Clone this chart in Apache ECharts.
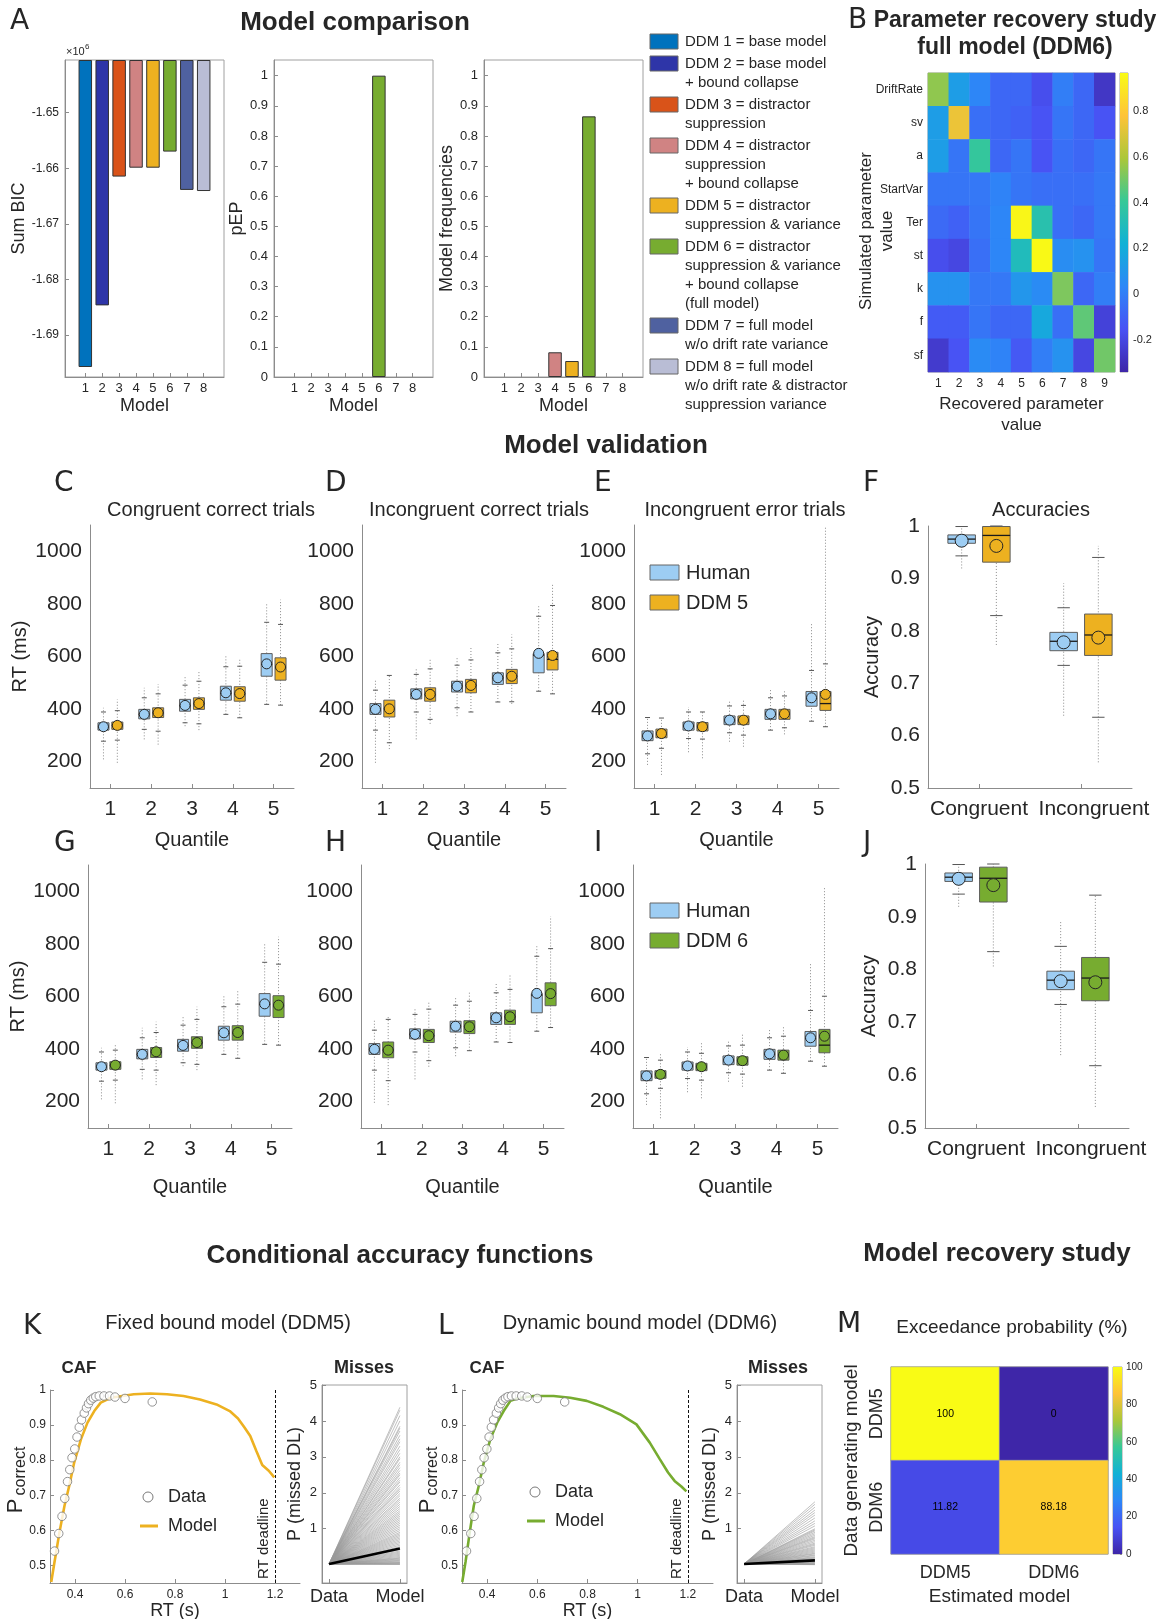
<!DOCTYPE html>
<html>
<head>
<meta charset="utf-8">
<script src="https://cdn.jsdelivr.net/npm/echarts@6/dist/echarts.min.js"></script>
<style>
  html, body { margin: 0; padding: 0; background: #fff; }
  #main { width: 1161px; height: 1619px; }
</style>
</head>
<body>
<div id="main"></div>
<script>
// ---------- panel A : model comparison ----------
const modelIdx = [1, 2, 3, 4, 5, 6, 7, 8];
const modelColors = ['#0072bd', '#2e35a8', '#d95319', '#d08383', '#edb120', '#77ac30', '#4f61a0', '#b9bdd5'];
const modelLegend = [
    ['DDM 1 = base model'],
    ['DDM 2 = base model', '+ bound collapse'],
    ['DDM 3 = distractor', 'suppression'],
    ['DDM 4 = distractor', 'suppression', '+ bound collapse'],
    ['DDM 5 = distractor', 'suppression & variance'],
    ['DDM 6 = distractor', 'suppression & variance', '+ bound collapse', '(full model)'],
    ['DDM 7 = full model', 'w/o drift rate variance'],
    ['DDM 8 = full model', 'w/o drift rate & distractor', 'suppression variance']
];
const sumBIC = [-1.6958, -1.6847, -1.6615, -1.6599, -1.6599, -1.6570, -1.6639, -1.6641]; // x10^6
const pEP = [0, 0, 0, 0, 0, 1, 0, 0];
const modelFreq = [0, 0, 0, 0.082, 0.053, 0.865, 0, 0];
const bicTicks = [-1.69, -1.68, -1.67, -1.66, -1.65];
const probTicks = [0, 0.1, 0.2, 0.3, 0.4, 0.5, 0.6, 0.7, 0.8, 0.9, 1];

// ---------- panel B : parameter recovery ----------
const paramNames = ['DriftRate', 'sv', 'a', 'StartVar', 'Ter', 'st', 'k', 'f', 'sf'];
const recoveredIdx = ['1', '2', '3', '4', '5', '6', '7', '8', '9'];
const paramCorr = [
    [0.55, 0.13, 0.03, -0.08, -0.08, -0.17, 0.0, -0.08, -0.27],
    [0.13, 0.74, -0.05, -0.08, -0.1, -0.15, -0.03, -0.08, -0.15],
    [0.13, -0.03, 0.39, -0.08, -0.03, -0.15, -0.05, -0.08, -0.03],
    [-0.03, -0.03, -0.02, 0.02, -0.03, -0.05, -0.05, -0.05, -0.02],
    [-0.07, -0.1, -0.03, 0.03, 0.95, 0.34, -0.05, -0.08, -0.02],
    [-0.17, -0.2, -0.05, 0.03, 0.3, 0.96, 0.06, 0.08, -0.03],
    [0.08, 0.08, -0.02, -0.02, 0.1, 0.05, 0.52, -0.08, 0.0],
    [-0.12, -0.12, -0.03, -0.08, -0.08, 0.18, -0.05, 0.47, -0.22],
    [-0.25, -0.15, 0.05, 0.02, -0.13, 0.0, 0.08, -0.2, 0.5]
];
const corrRange = [-0.34, 0.966];
const corrTicks = [-0.2, 0, 0.2, 0.4, 0.6, 0.8];

// ---------- panels C-J : model validation ----------
// each row: [outlier low, whisker low, q1, median, q3, whisker high, outlier high, mean]
const quantiles = ['1', '2', '3', '4', '5'];
const rtTicks = [200, 400, 600, 800, 1000];
const humanCongCorrect = [
    [209, 278, 320, 333, 348, 389, 405, 333],
    [285, 323, 363, 380, 399, 443, 481, 380],
    [335, 348, 392, 413, 437, 491, 525, 414],
    [380, 380, 434, 460, 487, 561, 601, 462],
    [418, 418, 525, 570, 611, 730, 804, 572]
];
const ddm5CongCorrect = [
    [196, 282, 323, 338, 351, 394, 437, 338],
    [265, 316, 368, 386, 405, 458, 495, 386],
    [320, 344, 399, 421, 443, 506, 541, 421],
    [367, 367, 430, 458, 485, 563, 595, 459],
    [415, 415, 510, 557, 595, 722, 816, 560]
];
const ddm6CongCorrect = [
    [194, 282, 323, 338, 352, 396, 422, 339],
    [263, 320, 368, 389, 406, 463, 504, 390],
    [320, 342, 403, 424, 447, 513, 561, 425],
    [365, 365, 434, 462, 489, 571, 622, 463],
    [415, 415, 520, 565, 603, 723, 827, 567]
];
const humanIncCorrect = [
    [196, 320, 380, 399, 421, 472, 513, 399],
    [285, 389, 439, 456, 477, 532, 557, 456],
    [373, 405, 465, 487, 506, 567, 601, 487],
    [427, 427, 494, 519, 538, 614, 652, 519],
    [468, 468, 538, 605, 611, 753, 791, 612]
];
const ddm5IncCorrect = [
    [248, 272, 370, 401, 434, 528, 528, 401],
    [344, 361, 430, 455, 481, 553, 592, 456],
    [389, 389, 462, 490, 513, 587, 639, 490],
    [420, 428, 497, 525, 551, 629, 684, 525],
    [458, 458, 549, 589, 616, 794, 880, 604]
];
const ddm6IncCorrect = [
    [187, 280, 367, 396, 427, 513, 529, 396],
    [333, 356, 425, 451, 475, 552, 580, 451],
    [394, 394, 459, 485, 508, 582, 618, 485],
    [425, 425, 494, 523, 548, 627, 681, 523],
    [482, 482, 565, 611, 652, 782, 905, 611]
];
const humanIncError = [
    [188, 230, 280, 297, 317, 368, 368, 298],
    [236, 288, 320, 336, 351, 389, 408, 336],
    [276, 310, 341, 357, 374, 412, 433, 358],
    [320, 320, 361, 381, 399, 443, 475, 382],
    [354, 354, 411, 440, 467, 547, 723, 443]
];
const ddm5IncError = [
    [150, 251, 291, 307, 324, 366, 366, 307],
    [213, 286, 317, 333, 349, 389, 389, 333],
    [257, 301, 341, 357, 374, 414, 433, 358],
    [304, 329, 361, 381, 399, 450, 471, 382],
    [333, 333, 395, 421, 467, 572, 1094, 456]
];
const ddm6IncError = [
    [137, 251, 289, 304, 318, 358, 384, 304],
    [213, 282, 318, 333, 346, 384, 428, 333],
    [257, 305, 339, 356, 371, 415, 462, 356],
    [308, 308, 358, 377, 396, 449, 485, 377],
    [335, 335, 386, 415, 475, 601, 1016, 449]
];
const conditions = ['Congruent', 'Incongruent'];
const accTicks = [0.5, 0.6, 0.7, 0.8, 0.9, 1];
const humanAcc = [
    [0.919, 0.943, 0.967, 0.975, 0.983, 0.999, 0.999, 0.972],
    [0.638, 0.734, 0.762, 0.780, 0.797, 0.844, 0.891, 0.778]
];
const ddm5Acc = [
    [0.773, 0.829, 0.931, 0.982, 0.999, 1.0, 1.0, 0.962],
    [0.549, 0.635, 0.753, 0.792, 0.832, 0.940, 0.962, 0.787]
];
const ddm6Acc = [
    [0.806, 0.834, 0.928, 0.973, 0.994, 1.0, 1.0, 0.960],
    [0.540, 0.618, 0.741, 0.784, 0.823, 0.941, 0.941, 0.776]
];

// ---------- panels K, L : conditional accuracy functions ----------
const cafRT = [0.318, 0.335, 0.348, 0.359, 0.370, 0.379, 0.388, 0.399, 0.408, 0.417, 0.426, 0.437,
    0.446, 0.454, 0.463, 0.473, 0.483, 0.497, 0.516, 0.538, 0.560, 0.600, 0.709];
const cafAcc = [0.541, 0.591, 0.640, 0.691, 0.739, 0.773, 0.807, 0.832, 0.866, 0.894, 0.915, 0.934,
    0.949, 0.961, 0.971, 0.977, 0.981, 0.983, 0.983, 0.983, 0.980, 0.976, 0.966];
const caf5RT = [0.305, 0.318, 0.338, 0.358, 0.377, 0.397, 0.424, 0.450, 0.477, 0.503, 0.543, 0.635, 0.701,
    0.768, 0.834, 0.900, 0.966, 1.019, 1.052, 1.078, 1.101, 1.125, 1.149, 1.175, 1.197];
const caf5P = [0.453, 0.51, 0.595, 0.670, 0.727, 0.794, 0.860, 0.907, 0.940, 0.964, 0.978, 0.988, 0.990,
    0.988, 0.983, 0.973, 0.959, 0.940, 0.919, 0.893, 0.869, 0.827, 0.786, 0.770, 0.751];
const caf6RT = [0.301, 0.314, 0.331, 0.347, 0.367, 0.387, 0.413, 0.440, 0.466, 0.493, 0.519, 0.585, 0.665,
    0.731, 0.797, 0.863, 0.929, 0.995, 1.048, 1.088, 1.121, 1.147, 1.174, 1.194];
const caf6P = [0.453, 0.51, 0.595, 0.670, 0.727, 0.794, 0.860, 0.907, 0.940, 0.969, 0.976, 0.983, 0.983,
    0.978, 0.969, 0.952, 0.931, 0.902, 0.850, 0.803, 0.765, 0.741, 0.725, 0.711];
const rtDeadline = 1.2;
const cafTicksX = [0.4, 0.6, 0.8, 1, 1.2];
const cafTicksY = [0.5, 0.6, 0.7, 0.8, 0.9, 1];

// missed deadlines (%), one value per simulated subject
const missesDDM5 = [4.38, 4.3, 4.15, 4.0, 3.85, 3.8, 3.72, 3.6, 3.5, 3.42, 3.3, 3.2, 3.1, 3.0, 2.95, 2.85,
    2.78, 2.7, 2.62, 2.55, 2.5, 2.42, 2.35, 2.3, 2.22, 2.15, 2.1, 2.05, 1.98, 1.92, 1.85, 1.8, 1.74, 1.68,
    1.62, 1.56, 1.5, 1.45, 1.4, 1.35, 1.3, 1.25, 1.2, 1.15, 1.1, 1.05, 1.0, 0.95, 0.9, 0.86, 0.82, 0.78,
    0.74, 0.7, 0.66, 0.62, 0.58, 0.54, 0.5, 0.46, 0.42, 0.38, 0.35, 0.32, 0.29, 0.26, 0.23, 0.2, 0.18,
    0.16, 0.14, 0.12, 0.1, 0.08, 0.06, 0.05, 0.04, 0.03, 0.02, 0.01];
const missesDDM6 = [1.75, 1.68, 1.6, 1.52, 1.45, 1.38, 1.3, 1.22, 1.15, 1.08, 1.0, 0.97, 0.94, 0.9, 0.86,
    0.82, 0.78, 0.75, 0.72, 0.68, 0.64, 0.6, 0.57, 0.54, 0.5, 0.47, 0.44, 0.41, 0.38, 0.35, 0.32, 0.3,
    0.27, 0.25, 0.22, 0.2, 0.18, 0.16, 0.14, 0.12, 0.1, 0.09, 0.08, 0.06, 0.05, 0.04, 0.03, 0.02, 0.01, 0.0];
const humanMiss = 0.02;
const missMean5 = 0.45;
const missMean6 = 0.12;
const missTicks = [1, 2, 3, 4, 5];

// ---------- panel M : model recovery ----------
const recModels = ['DDM5', 'DDM6'];
const exceedance = [[100, 0], [11.82, 88.18]]; // rows: generating model, cols: estimated model
const exceedTicks = [0, 20, 40, 60, 80, 100];

// ---------- styles ----------
const FONT = 'Liberation Sans';
const txt = '#262626';
const axisGray = '#8c8c8c';
const humanColor = '#9dcdf3';
const ddm5Color = '#edb120';
const ddm6Color = '#77ac30';
const parula = ['#3e26a8', '#4852f4', '#2d87f7', '#11b1d6', '#37c897', '#abc739', '#fec338', '#f9fb15'];

function merge(a, b) {
    for (const k in (b || {})) {
        if (b[k] && typeof b[k] === 'object' && !Array.isArray(b[k]) && a[k] && typeof a[k] === 'object') merge(a[k], b[k]);
        else a[k] = b[k];
    }
    return a;
}

function valueAxis(gi, min, max, ticks, fs, more) {
    return merge({
        type: 'value', gridIndex: gi, min: min, max: max,
        axisLine: {show: true, onZero: false, lineStyle: {color: axisGray}},
        axisTick: {show: true, inside: true, length: 4, customValues: ticks, lineStyle: {color: axisGray}},
        axisLabel: {customValues: ticks, fontSize: fs, color: txt, fontFamily: FONT, margin: 6,
            formatter: v => String(v)},
        splitLine: {show: false},
        nameLocation: 'middle',
        nameTextStyle: {fontSize: 18, color: txt, fontFamily: FONT}
    }, more);
}

function catAxis(gi, data, fs, more) {
    return merge({
        type: 'category', gridIndex: gi, data: data, boundaryGap: true,
        axisLine: {show: true, onZero: false, lineStyle: {color: axisGray}},
        axisTick: {show: true, inside: true, alignWithLabel: true, length: 4, lineStyle: {color: axisGray}},
        axisLabel: {fontSize: fs, color: txt, fontFamily: FONT, margin: 6, interval: 0},
        splitLine: {show: false},
        nameLocation: 'middle',
        nameTextStyle: {fontSize: 20, color: txt, fontFamily: FONT}
    }, more);
}

function hiddenAxis(gi) {
    return {type: 'value', gridIndex: gi, min: 0, max: 1, show: false};
}

function boxGrid(left, top, width, height) {
    return {left, top, width, height, show: true, borderColor: '#a0a0a0', borderWidth: 1,
        backgroundColor: 'transparent', containLabel: false, outerBoundsMode: 'none'};
}
function openGrid(left, top, width, height) {
    return {left, top, width, height, show: false, containLabel: false, outerBoundsMode: 'none'};
}

function txtEl(x, y, text, size, opt) {
    opt = opt || {};
    return {
        type: 'text', x: x, y: y, rotation: opt.rot || 0, silent: true,
        style: {text: text, fontSize: size, fontFamily: opt.family || FONT, fontWeight: opt.bold ? 'bold' : 'normal',
            fill: txt, align: opt.align || 'center', verticalAlign: 'middle', lineHeight: opt.lh || size * 1.2}
    };
}

// box with dotted whiskers, caps, median and a mean circle
function boxSeries(gi, rows, side, fill, r) {
    return {
        type: 'custom', xAxisIndex: gi, yAxisIndex: gi, silent: true, z: 3,
        data: rows.map((row, i) => [i].concat(row)),
        encode: {x: 0, y: [1, 2, 3, 4, 5, 6, 7, 8]},
        renderItem: function (params, api) {
            const band = api.size([1, 0])[0];
            const cx = api.coord([api.value(0), api.value(4)])[0] + side * 0.17 * band;
            const w = 0.27 * band, cap = 0.45 * w;
            const y = k => api.coord([api.value(0), api.value(k)])[1];
            const hline = (yy, half, stroke, lw) => ({type: 'line',
                shape: {x1: cx - half, y1: yy, x2: cx + half, y2: yy}, style: {stroke: stroke, lineWidth: lw}});
            return {type: 'group', children: [
                {type: 'line', shape: {x1: cx, y1: y(1), x2: cx, y2: y(7)},
                    style: {stroke: '#8a8a8a', lineWidth: 1, lineDash: [1, 2]}},
                hline(y(2), cap / 2, '#555', 1),
                hline(y(6), cap / 2, '#555', 1),
                {type: 'rect', shape: {x: cx - w / 2, y: y(5), width: w, height: y(3) - y(5)},
                    style: {fill: fill, stroke: '#5c5c5c', lineWidth: 1}},
                hline(y(4), w / 2, '#1a1a1a', 1.3),
                {type: 'circle', shape: {cx: cx, cy: y(8), r: r}, style: {fill: fill, stroke: '#262626', lineWidth: 1}}
            ]};
        }
    };
}

function colorbarSeries(gi, lo, hi) {
    return {
        type: 'custom', xAxisIndex: gi, yAxisIndex: gi, silent: true,
        data: [[0, lo, hi]], encode: {x: 0, y: [1, 2]},
        renderItem: function (params, api) {
            const p0 = api.coord([0, api.value(1)]);
            const p1 = api.coord([1, api.value(2)]);
            return {type: 'rect', shape: {x: p0[0], y: p1[1], width: p1[0] - p0[0], height: p0[1] - p1[1]},
                style: {fill: new echarts.graphic.LinearGradient(0, 1, 0, 0,
                    parula.map((c, i) => ({offset: i / (parula.length - 1), color: c})))}};
        }
    };
}

function barSeries(gi, values) {
    return {
        type: 'bar', xAxisIndex: gi, yAxisIndex: gi, barWidth: 13.5, clip: true, silent: true,
        data: values.map((v, i) => ({value: [modelIdx[i], v],
            itemStyle: {color: modelColors[i], borderColor: '#333', borderWidth: v === 0 ? 0 : 1}}))
    };
}

// ---------- grids & axes ----------
const grids = [
    boxGrid(65, 60, 159, 317),     // 0 A sum BIC
    boxGrid(274, 60, 159, 317),    // 1 A pEP
    boxGrid(484, 60, 159, 317),    // 2 A frequencies
    boxGrid(928, 73, 187, 299),    // 3 B heatmap
    boxGrid(1120, 73, 8, 299),     // 4 B colorbar
    openGrid(90, 525, 204, 263),   // 5 C
    openGrid(362, 525, 204, 263),  // 6 D
    openGrid(634, 525, 205, 263),  // 7 E
    openGrid(928, 526, 204, 262),  // 8 F
    openGrid(88, 865, 204, 263),   // 9 G
    openGrid(361, 865, 203, 263),  // 10 H
    openGrid(633, 865, 205, 263),  // 11 I
    openGrid(925, 864, 204, 264),  // 12 J
    openGrid(50, 1390, 250, 193),  // 13 K CAF
    boxGrid(322, 1385, 85, 198),   // 14 K misses
    openGrid(462, 1390, 251, 193), // 15 L CAF
    boxGrid(737, 1385, 85, 198),   // 16 L misses
    boxGrid(891, 1367, 217, 187),  // 17 M heatmap
    boxGrid(1113, 1367, 9, 187)    // 18 M colorbar
];

// accuracy x labels: "Incongruent" sits a little right of its tick, as in the original
const condLabel = {
    margin: 11,
    formatter: v => (v === 'Incongruent' ? '{r|' + v + '}' : v),
    rich: {r: {fontSize: 21, color: txt, fontFamily: FONT, padding: [0, 0, 0, 26]}}
};

const xAxes = [], yAxes = [];
// A
[0, 1, 2].forEach(gi => {
    xAxes.push(valueAxis(gi, -0.2, 9.2, modelIdx, 13, {name: 'Model', nameGap: 20, axisLabel: {margin: 5}}));
});
yAxes.push(valueAxis(0, -1.6976, -1.6405, bicTicks, 12, {name: 'Sum BIC', nameGap: 36, startValue: -1.6405}));
yAxes.push(valueAxis(1, 0, 1.052, probTicks, 13, {name: 'pEP', nameGap: 22}));
yAxes.push(valueAxis(2, 0, 1.052, probTicks, 13, {name: 'Model frequencies', nameGap: 26}));
// B
xAxes.push(catAxis(3, recoveredIdx, 12, {name: 'Recovered parameter\nvalue', nameGap: 22,
    axisLine: {show: false}, axisTick: {length: 3},
    nameTextStyle: {fontSize: 17, lineHeight: 21}}));
yAxes.push(catAxis(3, paramNames, 12, {inverse: true, axisLine: {show: false}, axisTick: {length: 3}, axisLabel: {margin: 5}}));
xAxes.push(hiddenAxis(4));
yAxes.push(valueAxis(4, corrRange[0], corrRange[1], corrTicks, 11,
    {position: 'right', axisLine: {show: false}, axisTick: {length: 2}, axisLabel: {margin: 5}}));
// C-E, G-I, plus the accuracy panels F and J
[5, 6, 7, 9, 10, 11].forEach(gi => {
    const top = gi < 9;
    xAxes.push(catAxis(gi, quantiles, 21, {name: 'Quantile', nameGap: top ? 42 : 49, axisLabel: {margin: 11}}));
    yAxes.push(valueAxis(gi, 100, 1100, rtTicks, 21, {
        name: (gi === 5 || gi === 9) ? 'RT (ms)' : '', nameGap: 60,
        nameTextStyle: {fontSize: 20}, axisLabel: {margin: 8}, axisTick: {length: 0}}));
    if (gi === 7 || gi === 11) {
        const ag = gi + 1;
        xAxes.push(catAxis(ag, conditions, 21, {axisLabel: condLabel}));
        yAxes.push(valueAxis(ag, 0.5, 1, accTicks, 21, {name: 'Accuracy', nameGap: 46,
            nameTextStyle: {fontSize: 20}, axisLabel: {margin: 8}, axisTick: {length: 0}}));
    }
});
// K, L
[13, 15].forEach(gi => {
    xAxes.push(valueAxis(gi, 0.3, 1.3, cafTicksX, 12, {name: 'RT (s)', nameGap: 15, axisLabel: {margin: 6}}));
    yAxes.push(valueAxis(gi, 0.45, 1, cafTicksY, 12, {axisLabel: {margin: 4}}));
    const mg = gi + 1;
    xAxes.push(valueAxis(mg, 0.9, 2.1, [1, 2], 18, {axisLabel: {margin: 5, formatter: v => (v === 1 ? 'Data' : 'Model')}}));
    yAxes.push(valueAxis(mg, -0.51, 5, missTicks, 13, {name: 'P (missed DL)', nameGap: 18, axisLabel: {margin: 5}}));
});
// M
xAxes.push(catAxis(17, recModels, 18, {name: 'Estimated model', nameGap: 33, nameTextStyle: {fontSize: 19},
    axisLine: {show: false}, axisTick: {show: false}, axisLabel: {margin: 10}}));
yAxes.push(catAxis(17, recModels, 18, {name: 'Data generating model', nameGap: 30, inverse: true,
    nameTextStyle: {fontSize: 19}, axisLine: {show: false}, axisTick: {show: false},
    axisLabel: {rotate: 90, margin: 5}}));
xAxes.push(hiddenAxis(18));
yAxes.push(valueAxis(18, 0, 100, exceedTicks, 10,
    {position: 'right', axisLine: {show: false}, axisTick: {length: 2}, axisLabel: {margin: 4}}));

// ---------- series ----------
const series = [];
series.push(barSeries(0, sumBIC));
series.push(barSeries(1, pEP));
series.push(barSeries(2, modelFreq));

const heatB = series.length;
series.push({
    type: 'heatmap', xAxisIndex: 3, yAxisIndex: 3, silent: true,
    data: paramCorr.flatMap((row, r) => row.map((v, c) => [c, r, v]))
});
series.push(colorbarSeries(4, corrRange[0], corrRange[1]));

const rtPanels = [
    [5, humanCongCorrect, ddm5CongCorrect, ddm5Color],
    [6, humanIncCorrect, ddm5IncCorrect, ddm5Color],
    [7, humanIncError, ddm5IncError, ddm5Color],
    [9, humanCongCorrect, ddm6CongCorrect, ddm6Color],
    [10, humanIncCorrect, ddm6IncCorrect, ddm6Color],
    [11, humanIncError, ddm6IncError, ddm6Color]
];
rtPanels.forEach(p => {
    series.push(boxSeries(p[0], p[1], -1, humanColor, 5));
    series.push(boxSeries(p[0], p[2], 1, p[3], 5));
});
series.push(boxSeries(8, humanAcc, -1, humanColor, 6.5));
series.push(boxSeries(8, ddm5Acc, 1, ddm5Color, 6.5));
series.push(boxSeries(12, humanAcc, -1, humanColor, 6.5));
series.push(boxSeries(12, ddm6Acc, 1, ddm6Color, 6.5));

const cafPanels = [
    [13, caf5RT, caf5P, ddm5Color, missesDDM5, missMean5],
    [15, caf6RT, caf6P, ddm6Color, missesDDM6, missMean6]
];
cafPanels.forEach(p => {
    const gi = p[0];
    series.push({
        type: 'line', xAxisIndex: gi, yAxisIndex: gi, silent: true, z: 2,
        data: p[1].map((x, i) => [x, p[2][i]]),
        showSymbol: false, lineStyle: {color: p[3], width: 2.6},
        markLine: {
            silent: true, symbol: 'none', animation: false,
            lineStyle: {type: [3, 2], color: '#111', width: 1},
            label: {show: true, position: 'insideStartTop', formatter: 'RT deadline', fontSize: 15,
                color: txt, fontFamily: FONT, distance: 4},
            data: [{xAxis: rtDeadline}]
        }
    });
    series.push({
        type: 'scatter', xAxisIndex: gi, yAxisIndex: gi, silent: true, z: 4,
        data: cafRT.map((x, i) => [x, cafAcc[i]]),
        symbol: 'circle', symbolSize: 8.5,
        itemStyle: {color: '#fff', borderColor: '#7a7a7a', borderWidth: 1}
    });
    series.push({
        type: 'lines', coordinateSystem: 'cartesian2d', xAxisIndex: gi + 1, yAxisIndex: gi + 1, silent: true,
        data: p[4].map(v => ({coords: [[1, humanMiss], [2, v]]})),
        lineStyle: {color: '#9a9a9a', width: 1, opacity: 0.6}
    });
    series.push({
        type: 'line', xAxisIndex: gi + 1, yAxisIndex: gi + 1, silent: true, z: 5,
        data: [[1, humanMiss], [2, p[5]]], showSymbol: false,
        lineStyle: {color: '#000', width: 2.6}
    });
});

const heatM = series.length;
series.push({
    type: 'heatmap', xAxisIndex: 17, yAxisIndex: 17, silent: true,
    data: exceedance.flatMap((row, r) => row.map((v, c) => [c, r, v])),
    itemStyle: {borderColor: '#a0a0a0', borderWidth: 0.6},
    label: {show: true, fontSize: 10.5, color: '#000', fontFamily: FONT, formatter: p => String(p.value[2])}
});
series.push(colorbarSeries(18, 0, 100));

// ---------- texts & legends ----------
const g = [];
const letters = [['A', 10, 22], ['B', 848, 21], ['C', 54, 484], ['D', 325, 484], ['E', 594, 484], ['F', 863, 484],
    ['G', 54, 844], ['H', 325, 844], ['I', 594, 844], ['J', 863, 844], ['K', 23, 1327], ['L', 438, 1327], ['M', 837, 1325]];
letters.forEach(l => g.push(txtEl(l[1], l[2], l[0], 28, {align: 'left', family: 'DejaVu Sans'})));

g.push(txtEl(355, 23, 'Model comparison', 26, {bold: true}));
g.push(txtEl(1015, 21, 'Parameter recovery study', 23, {bold: true}));
g.push(txtEl(1015, 48, 'full model (DDM6)', 23, {bold: true}));
g.push(txtEl(606, 446, 'Model validation', 26, {bold: true}));
g.push(txtEl(400, 1256, 'Conditional accuracy functions', 26, {bold: true}));
g.push(txtEl(997, 1254, 'Model recovery study', 26, {bold: true}));

g.push(txtEl(66, 52, '×10', 11, {align: 'left'}));
g.push(txtEl(85, 47, '6', 8, {align: 'left'}));

let ly = 42;
modelLegend.forEach((lines, i) => {
    g.push({type: 'rect', silent: true, shape: {x: 650, y: ly - 8, width: 28, height: 15},
        style: {fill: modelColors[i], stroke: '#666', lineWidth: 1}});
    lines.forEach((s, k) => g.push(txtEl(685, ly + k * 19, s, 15, {align: 'left'})));
    ly += (lines.length - 1) * 19 + 22;
});

g.push(txtEl(877, 231, 'Simulated parameter\nvalue', 17, {rot: Math.PI / 2, lh: 21}));

g.push(txtEl(211, 510, 'Congruent correct trials', 20));
g.push(txtEl(479, 510, 'Incongruent correct trials', 20));
g.push(txtEl(745, 510, 'Incongruent error trials', 20));
g.push(txtEl(1041, 510, 'Accuracies', 20));

[[573, 'DDM 5', ddm5Color], [911, 'DDM 6', ddm6Color]].forEach(e => {
    const y0 = e[0];
    g.push({type: 'rect', silent: true, shape: {x: 650, y: y0 - 8, width: 29, height: 15},
        style: {fill: humanColor, stroke: '#666', lineWidth: 1}});
    g.push(txtEl(686, y0, 'Human', 20, {align: 'left'}));
    g.push({type: 'rect', silent: true, shape: {x: 650, y: y0 + 22, width: 29, height: 15},
        style: {fill: e[2], stroke: '#666', lineWidth: 1}});
    g.push(txtEl(686, y0 + 30, e[1], 20, {align: 'left'}));
});

g.push(txtEl(228, 1323, 'Fixed bound model (DDM5)', 20));
g.push(txtEl(640, 1323, 'Dynamic bound model (DDM6)', 20));
[[79, 364, 0, ddm5Color], [487, 778, 412, ddm6Color]].forEach(e => {
    const dx = e[2];
    g.push(txtEl(e[0], 1368, 'CAF', 17, {bold: true}));
    g.push(txtEl(e[1], 1368, 'Misses', 18, {bold: true}));
    g.push(txtEl(16 + dx, 1506, 'P', 22, {rot: Math.PI / 2}));
    g.push(txtEl(21 + dx, 1471, 'correct', 16, {rot: Math.PI / 2}));
    const lx = dx === 0 ? 140 : 527, ty = dx === 0 ? 1497 : 1492;
    g.push({type: 'circle', silent: true, shape: {cx: lx + 8, cy: ty, r: 5},
        style: {fill: '#fff', stroke: '#7a7a7a', lineWidth: 1}});
    g.push(txtEl(lx + 28, ty, 'Data', 18, {align: 'left'}));
    g.push({type: 'line', silent: true, shape: {x1: lx, y1: ty + 29, x2: lx + 18, y2: ty + 29},
        style: {stroke: e[3], lineWidth: 3}});
    g.push(txtEl(lx + 28, ty + 29, 'Model', 18, {align: 'left'}));
});

g.push(txtEl(1012, 1328, 'Exceedance probability (%)', 19));

// ---------- chart ----------
const chart = echarts.init(document.getElementById('main'), null, {renderer: 'canvas'});
chart.setOption({
    backgroundColor: '#fff',
    animation: false,
    textStyle: {fontFamily: FONT},
    grid: grids,
    xAxis: xAxes,
    yAxis: yAxes,
    visualMap: [
        {type: 'continuous', show: false, seriesIndex: heatB, dimension: 2,
            min: corrRange[0], max: corrRange[1], inRange: {color: parula}},
        {type: 'continuous', show: false, seriesIndex: heatM, dimension: 2,
            min: 0, max: 100, inRange: {color: parula}}
    ],
    series: series,
    graphic: {elements: g}
});
</script>
</body>
</html>
